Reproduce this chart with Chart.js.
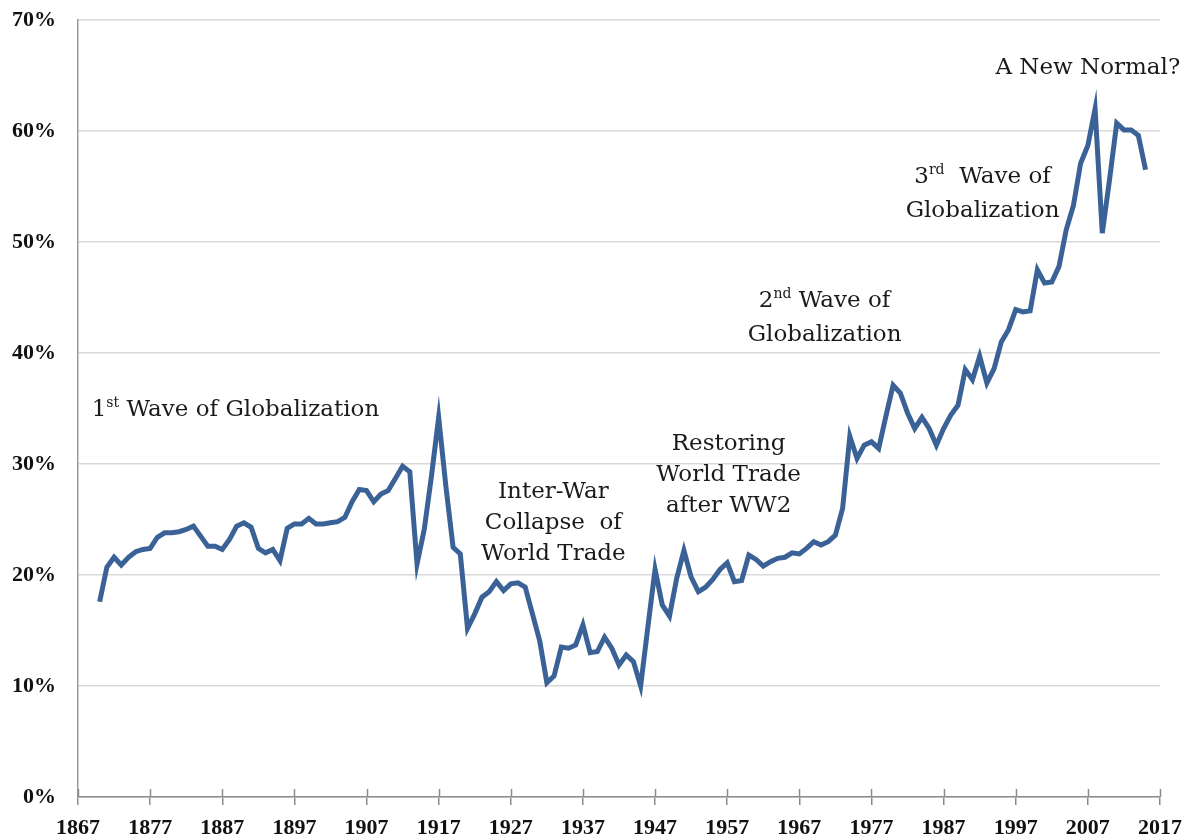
<!DOCTYPE html>
<html>
<head>
<meta charset="utf-8">
<script src="https://cdn.jsdelivr.net/npm/chart.js@4"></script>
<style>
  html, body { margin: 0; padding: 0; background: #ffffff; }
  #wrap { position: relative; width: 1203px; height: 839px; }
  #c { position: absolute; left: 0; top: 0; }
  .ann { position: absolute; font-family: "DejaVu Serif", "Liberation Serif", serif; font-size: 23px; line-height: 31px; color: #1a1a1a; white-space: nowrap; }
  .ann sup { font-size: 14px; vertical-align: 0; position: relative; top: -9px; }
  .center { text-align: center; transform: translate(-50%, 0); }
</style>
</head>
<body>
<div id="wrap">
  <canvas id="c" width="1203" height="839"></canvas>
  <div class="ann" id="a1">1<sup>st</sup> Wave of Globalization</div>
  <div class="ann center" id="a2">Inter-War<br>Collapse&nbsp; of<br>World Trade</div>
  <div class="ann center" id="a3">Restoring<br>World Trade<br>after WW2</div>
  <div class="ann center" id="a4">2<sup>nd</sup> Wave of<br>Globalization</div>
  <div class="ann center" id="a5">3<sup>rd</sup>&nbsp; Wave of<br>Globalization</div>
  <div class="ann center" id="a6">A New Normal?</div>
</div>
<script>
const years = [
  1870,1871,1872,1873,1874,1875,1876,1877,1878,1879,
  1880,1881,1882,1883,1884,1885,1886,1887,1888,1889,
  1890,1891,1892,1893,1894,1895,1896,1897,1898,1899,
  1900,1901,1902,1903,1904,1905,1906,1907,1908,1909,
  1910,1911,1912,1913,1914,1915,1916,1917,1918,1919,
  1920,1921,1922,1923,1924,1925,1926,1927,1928,1929,
  1930,1931,1932,1933,1934,1935,1936,1937,1938,1939,
  1940,1941,1942,1943,1944,1945,1946,1947,1948,1949,
  1950,1951,1952,1953,1954,1955,1956,1957,1958,1959,
  1960,1961,1962,1963,1964,1965,1966,1967,1968,1969,
  1970,1971,1972,1973,1974,1975,1976,1977,1978,1979,
  1980,1981,1982,1983,1984,1985,1986,1987,1988,1989,
  1990,1991,1992,1993,1994,1995,1996,1997,1998,1999,
  2000,2001,2002,2003,2004,2005,2006,2007,2008,2009,
  2010,2011,2012,2013,2014,2015
];
const tradeShare = [
  17.6,20.7,21.6,20.9,21.6,22.1,22.3,22.4,23.4,23.8,
  23.8,23.9,24.1,24.4,23.5,22.6,22.6,22.3,23.2,24.4,
  24.7,24.3,22.4,22.0,22.3,21.3,24.2,24.6,24.6,25.1,
  24.6,24.6,24.7,24.8,25.2,26.6,27.7,27.6,26.6,27.3,
  27.6,28.7,29.8,29.3,21.0,24.1,28.9,34.2,28.0,22.5,
  21.9,15.2,16.5,18.0,18.5,19.4,18.6,19.2,19.3,18.9,
  16.5,14.1,10.3,10.9,13.5,13.4,13.7,15.5,13.0,13.1,
  14.4,13.4,11.9,12.8,12.2,10.0,15.3,20.5,17.3,16.3,
  19.7,22.2,19.8,18.5,18.9,19.6,20.5,21.1,19.4,19.5,
  21.8,21.4,20.8,21.2,21.5,21.6,22.0,21.9,22.4,23.0,
  22.7,23.0,23.6,26.0,32.5,30.5,31.7,32.0,31.4,34.3,
  37.1,36.4,34.6,33.2,34.2,33.2,31.7,33.2,34.4,35.3,
  38.5,37.6,39.7,37.3,38.6,41.0,42.1,43.9,43.7,43.8,
  47.5,46.3,46.4,47.8,51.1,53.3,57.1,58.7,62.0,50.8,
  55.6,60.7,60.1,60.1,59.6,56.5
];
const xTickYears = [1867,1877,1887,1897,1907,1917,1927,1937,1947,1957,1967,1977,1987,1997,2007,2017];
const yTickValues = [0,10,20,30,40,50,60,70];

// annotation anchors: [elementId, year, value at top of text box]
const annotations = [
  ['a1', 1868.9, 36.4],
  ['a2', 1932.9, 29.05],
  ['a3', 1957.2, 33.3],
  ['a4', 1970.5, 46.2],
  ['a5', 1992.4, 57.4],
  ['a6', 2007.0, 67.25]
];

const points = years.map((y, i) => ({ x: y, y: tradeShare[i] }));

const placeAnnotations = {
  id: 'placeAnnotations',
  afterRender(chart) {
    const xs = chart.scales.x, ys = chart.scales.y;
    annotations.forEach(([id, yr, v]) => {
      const el = document.getElementById(id);
      el.style.left = xs.getPixelForValue(yr) + 'px';
      el.style.top = ys.getPixelForValue(v) + 'px';
    });
  }
};

const crossTicks = {
  id: 'crossTicks',
  afterDraw(chart) {
    const ctx = chart.ctx, xs = chart.scales.x, base = chart.scales.y.getPixelForValue(0);
    ctx.save();
    ctx.strokeStyle = '#8c8c8c';
    ctx.lineWidth = 1.5;
    xTickYears.forEach(yr => {
      const px = Math.round(xs.getPixelForValue(yr)) + 0.5;
      ctx.beginPath();
      ctx.moveTo(px, base - 8);
      ctx.lineTo(px, base);
      ctx.stroke();
    });
    ctx.restore();
  }
};

new Chart(document.getElementById('c'), {
  type: 'line',
  data: {
    datasets: [{
      data: points,
      borderColor: '#3b6296',
      borderWidth: 5,
      pointRadius: 0,
      tension: 0,
      fill: false,
      borderJoinStyle: 'miter'
    }]
  },
  options: {
    responsive: false,
    animation: false,
    events: [],
    layout: { padding: { left: 0, right: 43, top: 20, bottom: 0 } },
    plugins: { legend: { display: false }, tooltip: { enabled: false } },
    scales: {
      x: {
        type: 'linear',
        min: 1867, max: 2017,
        afterBuildTicks(scale) { scale.ticks = xTickYears.map(v => ({ value: v })); },
        afterFit(scale) { scale.height = 42; scale.paddingLeft = 0; scale.paddingRight = 0; },
        grid: { drawOnChartArea: false, drawTicks: true, tickLength: 8, color: '#8c8c8c', lineWidth: 1.5 },
        border: { color: '#8c8c8c', width: 1.5 },
        ticks: {
          color: '#111',
          padding: 10,
          maxRotation: 0,
          autoSkip: false,
          font: { family: 'Liberation Serif', size: 22, weight: 'bold' },
          callback: v => String(v)
        }
      },
      y: {
        min: 0, max: 70,
        afterBuildTicks(scale) { scale.ticks = yTickValues.map(v => ({ value: v })); },
        afterFit(scale) { scale.width = 78; scale.paddingTop = 0; scale.paddingBottom = 0; },
        grid: { color: '#d9d9d9', lineWidth: 1.5, drawTicks: false },
        border: { color: '#9a9a9a', width: 1.5 },
        ticks: {
          color: '#111',
          padding: 22,
          font: { family: 'Liberation Serif', size: 22, weight: 'bold' },
          callback: v => v + '%'
        }
      }
    }
  },
  plugins: [crossTicks, placeAnnotations]
});
</script>
</body>
</html>
